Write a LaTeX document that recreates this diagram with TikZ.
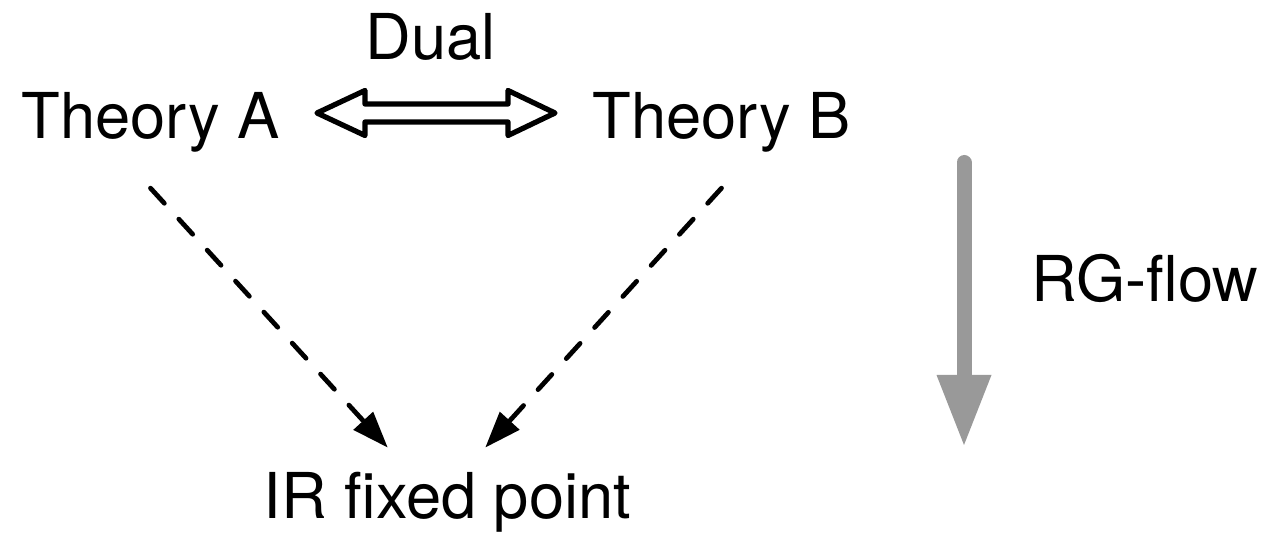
\documentclass[tikz,border=0pt]{standalone}
\usepackage{fontspec}
\setmainfont{TeX Gyre Heros}
\usetikzlibrary{arrows.meta, positioning}
\definecolor{flowgray}{HTML}{999999}

\begin{document}
\begin{tikzpicture}[
    term/.style={
        inner sep=0pt,
        anchor=base,
        font=\fontsize{36}{43}\selectfont
    },
    dualarrow/.style={
        draw=black,
        line width=3pt,
        line join=round,
        fill=white
    },
    flow/.style={
        -{Triangle[length=7.2mm, width=5.4mm, line width=0pt]},
        line width=2.7pt,
        line cap=round,
        dash pattern=on 4.1mm off 4.3mm
    },
    rgarrow/.style={
        -{Triangle[length=14mm, width=11mm, line width=0pt]},
        draw=flowgray,
        fill=flowgray,
        line width=3mm,
        line cap=round
    }
]
\useasboundingbox (0,0) rectangle (25.3,10.66);

\node[term] (thA) at (3.01,7.88) {Theory A};
\node[term] (thB) at (14.43,7.88) {Theory B};
\node[term] (dual) at (8.62,9.46) {Dual};
\node[term] (ir) at (8.95,0.28) {IR fixed point};
\node[term] (rg) at (22.9,4.62) {RG-flow};

% duality between the two theories
\coordinate (dl) at (6.34,8.4);
\coordinate (dr) at (11.1,8.4);
\draw[dualarrow] (dl) -- ++(0.96,0.45) -- ++(0,-0.27) -- ++(2.86,0) -- ++(0,0.27)
    -- (dr) -- ++(-0.94,-0.45) -- ++(0,0.27) -- ++(-2.86,0) -- ++(0,-0.27) -- cycle;

% both flow to the same point
\draw[flow] ([yshift=-0.7cm]thA.south) -- ([xshift=-1.2cm, yshift=0.5cm]ir.north);
\draw[flow] ([yshift=-0.7cm]thB.south) -- ([xshift=0.76cm, yshift=0.5cm]ir.north);

\coordinate (rgtop) at (19.28,7.41);
\coordinate (rgbot) at (19.28,1.76);
\draw[rgarrow] (rgtop) -- (rgbot);

\end{tikzpicture}
\end{document}
